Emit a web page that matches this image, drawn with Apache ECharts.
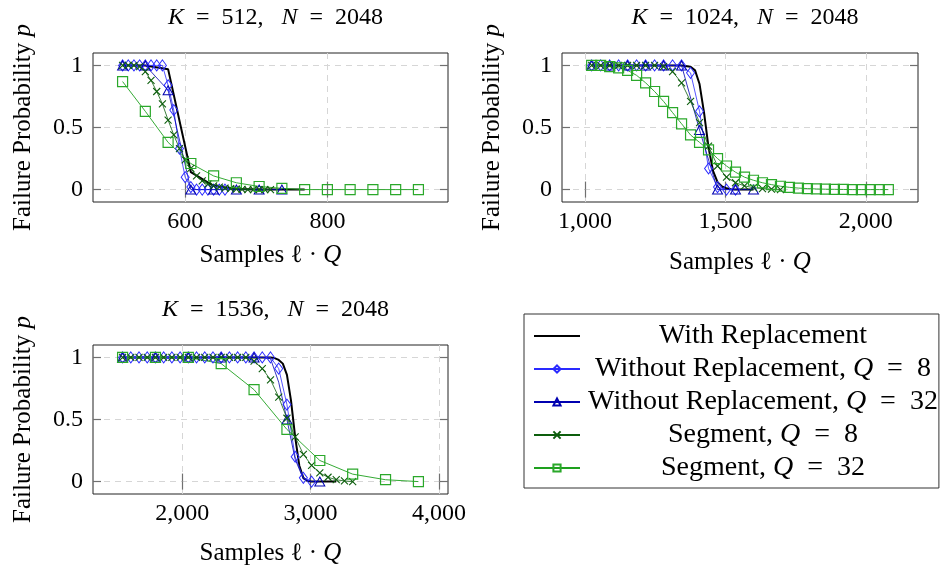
<!DOCTYPE html>
<html><head><meta charset="utf-8">
<script src="https://cdn.jsdelivr.net/npm/echarts@6/dist/echarts.min.js"></script>
<style>html,body{margin:0;padding:0;background:#fff}#c{width:947px;height:572px}</style>
</head><body><div id="c"></div>
<script>
// ---------- names ----------
const N_WR = 'With Replacement';
const N_W8 = 'Without Replacement, Q = 8';
const N_W32 = 'Without Replacement, Q = 32';
const N_S8 = 'Segment, Q = 8';
const N_S32 = 'Segment, Q = 32';
const titles = [['K', ' = 512,', 'N', ' = 2048'], ['K', ' = 1024,', 'N', ' = 2048'], ['K', ' = 1536,', 'N', ' = 2048']];
const yTicks = [0, 0.5, 1];
const xTicks1 = [600, 800];
const xTicks2 = [1000, 1500, 2000];
const xTicks3 = [2000, 3000, 4000];

// ---------- plot 1 : K = 512 ----------
const p1_x_wr = [512, 544, 576, 608, 640, 672, 704, 736, 768];
const p1_y_wr = [1, 1, 0.97, 0.14, 0.03, 0.005, 0, 0, 0];
const p1_x_w8 = [512, 520, 528, 536, 544, 552, 560, 568, 576, 584, 592, 600, 608, 616, 624, 632, 640, 648, 656];
const p1_y_w8 = [1, 1, 1, 1, 1, 1, 1, 1, 0.84, 0.64, 0.33, 0.1, 0.02, 0, 0, 0, 0, 0, 0];
const p1_x_w32 = [512, 544, 576, 608, 640, 672, 704, 736];
const p1_y_w32 = [1, 1, 0.8, 0, 0, 0, 0, 0];
const p1_x_s8 = [512, 520, 528, 536, 544, 552, 560, 568, 576, 584, 592, 600, 608, 616, 624, 632, 640, 648, 656, 664, 672, 680, 688, 696, 704, 712, 720];
const p1_y_s8 = [1, 1, 1, 0.99, 0.95, 0.88, 0.79, 0.69, 0.56, 0.44, 0.33, 0.24, 0.17, 0.11, 0.07, 0.045, 0.03, 0.02, 0.012, 0.008, 0.004, 0.002, 0, 0, 0, 0, 0];
const p1_x_s32 = [512, 544, 576, 608, 640, 672, 704, 736, 768, 800, 832, 864, 896, 928];
const p1_y_s32 = [0.87, 0.63, 0.38, 0.21, 0.11, 0.055, 0.025, 0.01, 0, 0, 0, 0, 0, 0];

// ---------- plot 2 : K = 1024 ----------
const p2_x_wr = [1024, 1088, 1152, 1216, 1280, 1344, 1376, 1392, 1408, 1424, 1440, 1456, 1472, 1488, 1504, 1520, 1536, 1568, 1600];
const p2_y_wr = [1, 1, 1, 1, 1, 1, 0.99, 0.96, 0.85, 0.62, 0.34, 0.15, 0.06, 0.025, 0.01, 0.003, 0, 0, 0];
const p2_x_w8 = [1024, 1056, 1088, 1120, 1152, 1184, 1216, 1248, 1280, 1312, 1344, 1376, 1408, 1440, 1472, 1504, 1536];
const p2_y_w8 = [1, 1, 1, 1, 1, 1, 1, 1, 1, 1, 1, 0.94, 0.63, 0.17, 0.02, 0, 0];
const p2_x_w32 = [1024, 1088, 1152, 1216, 1280, 1344, 1408, 1472, 1536, 1600];
const p2_y_w32 = [1, 1, 1, 1, 1, 1, 0.48, 0, 0, 0];
const p2_x_s8 = [1024, 1056, 1088, 1120, 1152, 1184, 1216, 1248, 1280, 1312, 1344, 1376, 1408, 1440, 1472, 1504, 1536, 1568, 1600, 1632, 1664, 1696];
const p2_y_s8 = [1, 1, 1, 1, 1, 1, 1, 1, 0.99, 0.95, 0.86, 0.71, 0.54, 0.35, 0.19, 0.1, 0.055, 0.03, 0.015, 0.008, 0.004, 0];
const p2_x_s32 = [1024, 1056, 1088, 1120, 1152, 1184, 1216, 1248, 1280, 1312, 1344, 1376, 1408, 1440, 1472, 1504, 1536, 1568, 1600, 1632, 1664, 1696, 1728, 1760, 1792, 1824, 1856, 1888, 1920, 1952, 1984, 2016, 2048, 2080];
const p2_y_s32 = [1, 1, 0.99, 0.98, 0.96, 0.92, 0.86, 0.79, 0.71, 0.62, 0.53, 0.44, 0.38, 0.32, 0.25, 0.19, 0.14, 0.1, 0.075, 0.055, 0.04, 0.027, 0.018, 0.012, 0.008, 0.005, 0.003, 0.002, 0.001, 0, 0, 0, 0, 0];

// ---------- plot 3 : K = 1536 ----------
const p3_x_wr = [1536, 2048, 2560, 2688, 2720, 2752, 2784, 2816, 2848, 2880, 2912, 2944, 2976, 3008, 3200];
const p3_y_wr = [1, 1, 1, 1, 0.995, 0.98, 0.95, 0.86, 0.65, 0.36, 0.13, 0.03, 0.005, 0, 0];
const p3_x_w8 = [1536, 1600, 1664, 1728, 1792, 1856, 1920, 1984, 2048, 2112, 2176, 2240, 2304, 2368, 2432, 2496, 2560, 2624, 2688, 2752, 2816, 2880, 2944, 3008];
const p3_y_w8 = [1, 1, 1, 1, 1, 1, 1, 1, 1, 1, 1, 1, 1, 1, 1, 1, 1, 1, 1, 0.91, 0.62, 0.2, 0.03, 0];
const p3_x_w32 = [1536, 1600, 1664, 1728, 1792, 1856, 1920, 1984, 2048, 2112, 2176, 2240, 2304, 2368, 2432, 2496, 2560, 2624, 2688, 2752, 2816, 2880, 2944, 3008, 3072];
const p3_y_w32 = [1, 1, 1, 1, 1, 1, 1, 1, 1, 1, 1, 1, 1, 1, 1, 1, 1, 1, 0.99, 0.8, 0.5, 0.18, 0.02, 0, 0];
const p3_x_s8 = [1536, 1600, 1664, 1728, 1792, 1856, 1920, 1984, 2048, 2112, 2176, 2240, 2304, 2368, 2432, 2496, 2560, 2624, 2688, 2752, 2816, 2880, 2944, 3008, 3072, 3136, 3200, 3264, 3328];
const p3_y_s8 = [1, 1, 1, 1, 1, 1, 1, 1, 1, 1, 1, 1, 1, 1, 1, 1, 0.97, 0.91, 0.82, 0.68, 0.51, 0.36, 0.22, 0.13, 0.07, 0.035, 0.015, 0.005, 0];
const p3_x_s32 = [1536, 1792, 2048, 2304, 2560, 2816, 3072, 3328, 3584, 3840];
const p3_y_s32 = [1, 1, 1, 0.95, 0.74, 0.42, 0.17, 0.06, 0.015, 0];

// ---------- styling ----------
const FONT = '"Liberation Serif", "DejaVu Serif", serif';
const FS_TICK = 24, FS_NAME = 25, FS_TITLE = 24, FS_LEG = 28;
const EN = '\u2002';
const C_W8 = '#2a2aff', C_W32 = '#0000b0', C_S8 = '#0d5e0d', C_S32 = '#1ea01e';
const CLEAR = 'rgba(255,255,255,0)';
function richSet(fs, extra) {
  return {
    n: Object.assign({fontFamily: FONT, fontSize: fs, color: '#000', fontWeight: 'normal'}, extra || {}),
    i: Object.assign({fontFamily: FONT, fontSize: fs, color: '#000', fontWeight: 'normal', fontStyle: 'italic'}, extra || {})
  };
}
const styles = {};
styles[N_WR] = {symbol: 'none', lineStyle: {color: '#000', width: 2}, itemStyle: {color: '#000'}};
styles[N_W8] = {symbol: 'diamond', symbolSize: [8, 11], lineStyle: {color: C_W8, width: 0.8}, itemStyle: {color: CLEAR, borderColor: C_W8, borderWidth: 1}};
styles[N_W32] = {symbol: 'triangle', symbolSize: [10, 9], lineStyle: {color: C_W32, width: 0.8}, itemStyle: {color: CLEAR, borderColor: C_W32, borderWidth: 1}};
styles[N_S8] = {symbol: 'path://M0,0L10,10M10,0L0,10', symbolSize: 7, lineStyle: {color: C_S8, width: 0.8}, itemStyle: {color: CLEAR, borderColor: C_S8, borderWidth: 1.1}};
styles[N_S32] = {symbol: 'rect', symbolSize: 10, lineStyle: {color: C_S32, width: 0.9}, itemStyle: {color: CLEAR, borderColor: '#2aa82a', borderWidth: 1.2}};

function mkSeries(name, gi, xs, ys, extra) {
  return Object.assign({
    type: 'line', name: name, xAxisIndex: 2 * gi, yAxisIndex: 2 * gi,
    data: xs.map((x, i) => [x, ys[i]]),
    showAllSymbol: true, animation: false, emphasis: {disabled: true}, z: 3
  }, JSON.parse(JSON.stringify(styles[name])), extra || {});
}

const plots = [
  {xs: [p1_x_wr, p1_x_w8, p1_x_w32, p1_x_s8, p1_x_s32], ys: [p1_y_wr, p1_y_w8, p1_y_w32, p1_y_s8, p1_y_s32], ticks: xTicks1, grid: {left: 93, top: 53, width: 355, height: 149}, nameGap: 41},
  {xs: [p2_x_wr, p2_x_w8, p2_x_w32, p2_x_s8, p2_x_s32], ys: [p2_y_wr, p2_y_w8, p2_y_w32, p2_y_s8, p2_y_s32], ticks: xTicks2, grid: {left: 562, top: 53, width: 356, height: 149}, nameGap: 48},
  {xs: [p3_x_wr, p3_x_w8, p3_x_w32, p3_x_s8, p3_x_s32], ys: [p3_y_wr, p3_y_w8, p3_y_w32, p3_y_s8, p3_y_s32], ticks: xTicks3, grid: {left: 93, top: 345, width: 355, height: 149}, nameGap: 47}
];
const names = [N_WR, N_W8, N_W32, N_S8, N_S32];

const grid = [], xAxis = [], yAxis = [], series = [], title = [];
const tickStyle = {color: '#707070', width: 1.2};
plots.forEach((p, gi) => {
  grid.push(Object.assign({show: true, borderColor: '#222', borderWidth: 1, backgroundColor: 'transparent'}, p.grid));
  const all = [].concat(...p.xs);
  const lo = Math.min(...all), hi = Math.max(...all);
  const xmin = lo - 0.1 * (hi - lo), xmax = hi + 0.1 * (hi - lo);
  xAxis.push({
    type: 'value', gridIndex: gi, min: xmin, max: xmax, position: 'bottom',
    axisLine: {show: false},
    axisTick: {show: true, inside: true, length: 8, customValues: p.ticks, lineStyle: tickStyle},
    axisLabel: {customValues: p.ticks, margin: 8, fontFamily: FONT, fontSize: FS_TICK, color: '#000'},
    splitLine: {show: true, lineStyle: {color: '#d6d6d6', type: [6, 5], width: 1}},
    name: '{n|Samples }{n|ℓ}{n| · }{i|Q}', nameLocation: 'middle', nameGap: p.nameGap,
    nameTextStyle: {rich: richSet(FS_NAME)}
  });
  xAxis.push({
    type: 'value', gridIndex: gi, min: xmin, max: xmax, position: 'top',
    axisLine: {show: false}, axisLabel: {show: false}, splitLine: {show: false},
    axisTick: {show: true, inside: true, length: 8, customValues: p.ticks, lineStyle: tickStyle}
  });
  yAxis.push({
    type: 'value', gridIndex: gi, min: -0.1, max: 1.1, position: 'left',
    axisLine: {show: false},
    axisTick: {show: true, inside: true, length: 8, customValues: yTicks, lineStyle: tickStyle},
    axisLabel: {customValues: yTicks, margin: 10, fontFamily: FONT, fontSize: FS_TICK, color: '#000'},
    splitLine: {show: true, lineStyle: {color: '#d6d6d6', type: [6, 5], width: 1}},
    name: '{n|Failure Probability }{i|p}', nameLocation: 'middle', nameRotate: 90, nameGap: 57,
    nameTextStyle: {rich: richSet(FS_NAME)}
  });
  yAxis.push({
    type: 'value', gridIndex: gi, min: -0.1, max: 1.1, position: 'right',
    axisLine: {show: false}, axisLabel: {show: false}, splitLine: {show: false},
    axisTick: {show: true, inside: true, length: 8, customValues: yTicks, lineStyle: tickStyle}
  });
  const t = titles[gi];
  const eqPart = s => s.replace(' = ', EN + '=' + EN);
  title.push({
    text: '{i|' + t[0] + '}{n|' + eqPart(t[1]) + EN + ' }{i|' + t[2] + '}{n|' + eqPart(t[3]) + '}',
    left: p.grid.left + p.grid.width / 2, top: p.grid.top - 52, textAlign: 'center',
    textStyle: {fontWeight: 'normal', rich: richSet(FS_TITLE)}
  });
  names.forEach((nm, si) => {
    let extra = {};
    if (gi === 2 && nm === N_W32) {
      extra.symbolSize = (v, prm) => (prm.dataIndex % 4 === 0 ? [10, 9] : 0);
    }
    series.push(mkSeries(nm, gi, p.xs[si], p.ys[si], extra));
  });
});

const legendRich = richSet(FS_LEG, {align: 'center'});
const legendData = names.map(n => (n === N_WR ? {name: n, icon: 'path://M0,0H46V2H0Z'} : {name: n}));
const chart = echarts.init(document.getElementById('c'), null, {renderer: 'canvas'});
chart.setOption({
  backgroundColor: '#fff',
  animation: false,
  title: title,
  grid: grid,
  xAxis: xAxis,
  yAxis: yAxis,
  legend: {
    orient: 'vertical', left: 524, top: 314,
    data: legendData, selectedMode: false,
    itemWidth: 46, itemHeight: 9, itemGap: 5,
    padding: [8, 1, 6, 9],
    borderColor: '#333', borderWidth: 1, backgroundColor: '#fff',
    textStyle: {width: 356, fontFamily: FONT, fontSize: FS_LEG, color: '#000', rich: legendRich},
    formatter: function (name) {
      const k = name.indexOf('Q');
      if (k < 0) return '{n|' + name + '}';
      return '{n|' + name.slice(0, k) + '}{i|Q}{n|' + name.slice(k + 1).replace(' = ', EN + '=' + EN) + '}';
    }
  },
  series: series
});
</script>
</body></html>
